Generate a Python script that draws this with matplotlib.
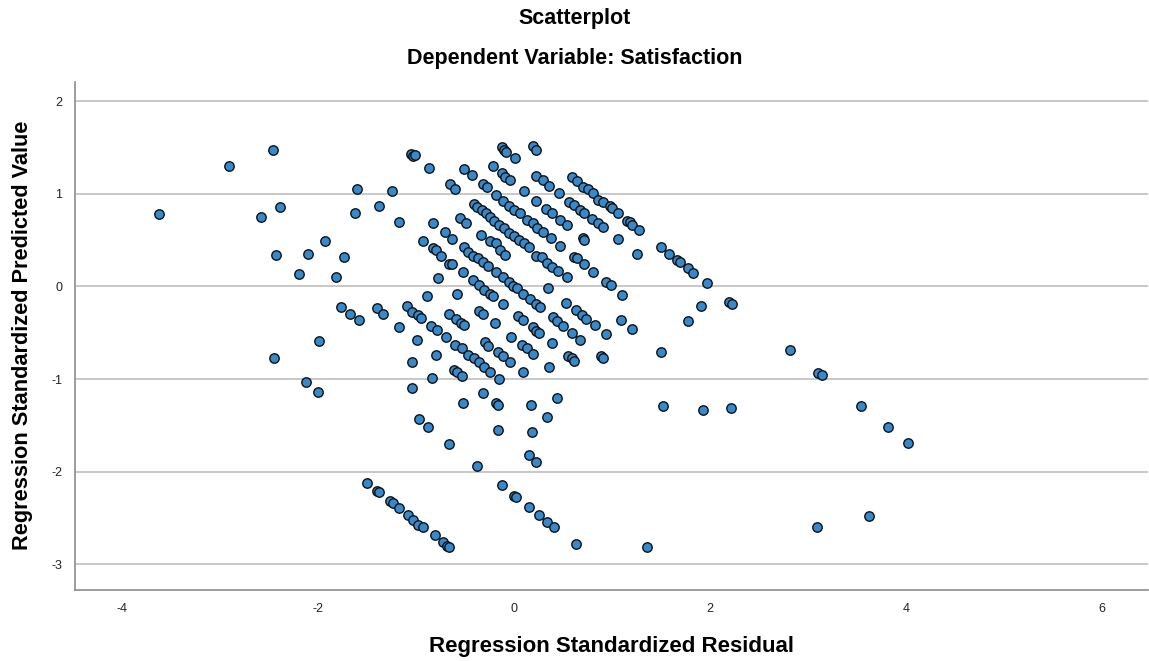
import numpy as np
import matplotlib.pyplot as plt

# Regression standardized residual (x) vs standardized predicted value (y)
left_x = [-3.62, -2.91, -2.46, -2.58, -2.39, -2.43, -2.45, -2.19, -2.10, -1.93,
          -2.12, -2.00, -1.99, -1.82, -1.73, -1.77, -1.67, -1.58, -1.60, -1.62,
          -1.40, -1.34, -1.38, -1.24, -1.17, -1.17, -1.09, -1.04, -0.98, -0.95,
          -1.05, -1.03, -1.01, -0.87, -0.99, -1.04, -1.04, -0.97, -0.88, -0.93]
left_y = [0.78, 1.30, 1.48, 0.75, 0.86, 0.34, -0.77, 0.13, 0.35, 0.49,
          -1.03, -1.14, -0.59, 0.10, 0.32, -0.22, -0.30, -0.36, 1.05, 0.79,
          -0.23, -0.30, 0.87, 1.03, 0.70, -0.44, -0.21, -0.28, -0.31, -0.34,
          1.43, 1.41, 1.42, 1.28, -0.58, -0.82, -1.10, -1.43, -1.52, 0.49]

core_x = [-0.83, -0.80, -0.74, -0.83, -0.85, -0.79, -0.80, -0.84, -0.69, -0.66,
          -0.59, -0.54, -0.51, -0.66, -0.65, -0.60, -0.70, -0.63, -0.78, -0.63,
          -0.52, -0.42, -0.36, -0.31, -0.24, -0.21, -0.58, -0.89, -0.55, -0.49,
          -0.51, -0.43, -0.21, -0.12, -0.09, -0.04, -0.12, -0.10, -0.08, 0.01,
          0.19, 0.22, 0.23, 0.30, 0.36, 0.46,
          0.59, 0.64, 0.70, 0.76, 0.81, 0.86, 0.91, 0.98, 1.00, 1.06,
          1.15, 1.18, 1.20, 1.28,
          -0.32, -0.28, -0.18, -0.11, -0.05, 0.00, 0.06, 0.10, 0.22,
          -0.41, -0.38, -0.33, -0.29, -0.24, -0.20, -0.15, -0.10, -0.05, 0.00,
          0.05, 0.10, 0.15,
          0.13, 0.19, 0.24, 0.30, 0.38, 0.47, 0.33, 0.39, 0.47, 0.54,
          0.56, 0.61, 0.67, 0.72, 0.80, 0.86, 0.91, 0.70, 0.72, 1.06, 1.26,
          0.61, 0.64, 0.71, 0.81,
          -0.51, -0.47, -0.42, -0.37, -0.32, -0.27, -0.18, -0.11, -0.05, -0.01,
          0.03, -0.34, -0.24, -0.18, -0.14, -0.09,
          0.23, 0.29, 0.34, 0.39, 0.45, 0.54,
          0.09, 0.16, 0.22, 0.27, 0.35, 0.53, 0.63, 0.69, 0.74, 0.83,
          -0.36, -0.32, -0.19, -0.11, 0.04, 0.09, 0.19, 0.23, 0.26,
          0.40, 0.44, 0.50, 0.59, 0.67, 0.39,
          -0.60, -0.53, -0.47, -0.41, -0.36, -0.31, -0.24, -0.15,
          -0.30, -0.26, -0.16, -0.11, -0.04, -0.03, 0.08, 0.13, 0.19,
          0.36, 0.09, 0.55, 0.59, 0.61, 0.89, 0.91,
          -0.61, -0.58, -0.53, -0.32, -0.52, -0.18, -0.16, 0.17, 0.44, 0.34,
          -0.16, 0.18, -0.38, 0.15, 0.23, -0.66]
core_y = [0.42, 0.39, 0.33, 0.69, -0.43, -0.47, -0.74, -0.99, -0.55, -0.30,
          -0.35, -0.39, -0.42, 0.24, 1.11, 1.05, 0.59, 0.51, 0.09, 0.24,
          0.16, 0.07, 0.02, -0.04, -0.08, -0.10, -0.08, -0.10, 0.74, 0.69,
          1.27, 1.20, 1.30, 1.23, 1.18, 1.15, 1.51, 1.48, 1.45, 1.39,
          1.52, 1.48, 1.19, 1.15, 1.09, 1.01,
          1.18, 1.14, 1.07, 1.05, 1.01, 0.93, 0.91, 0.87, 0.85, 0.79,
          0.71, 0.70, 0.66, 0.61,
          1.11, 1.07, 0.99, 0.92, 0.87, 0.83, 0.79, 1.03, 0.92,
          0.89, 0.86, 0.83, 0.79, 0.75, 0.71, 0.66, 0.63, 0.58, 0.55,
          0.50, 0.47, 0.43,
          0.72, 0.69, 0.63, 0.59, 0.52, 0.44, 0.84, 0.79, 0.72, 0.66,
          0.91, 0.88, 0.83, 0.79, 0.73, 0.69, 0.64, 0.52, 0.50, 0.51, 0.35,
          0.32, 0.31, 0.24, 0.16,
          0.43, 0.37, 0.33, 0.31, 0.26, 0.22, 0.16, 0.10, 0.05, 0.01,
          -0.02, 0.56, 0.49, 0.47, 0.39, 0.34,
          0.33, 0.32, 0.25, 0.21, 0.17, 0.10,
          -0.08, -0.13, -0.19, -0.22, -0.02, -0.18, -0.25, -0.31, -0.35, -0.42,
          -0.26, -0.30, -0.40, -0.19, -0.32, -0.36, -0.44, -0.48, -0.50,
          -0.33, -0.37, -0.43, -0.50, -0.58, -0.61,
          -0.63, -0.67, -0.74, -0.77, -0.82, -0.87, -0.92, -1.00,
          -0.60, -0.64, -0.71, -0.75, -0.82, -0.55, -0.63, -0.67, -0.73,
          -0.87, -0.92, -0.75, -0.77, -0.80, -0.75, -0.77,
          -0.90, -0.92, -0.97, -1.15, -1.26, -1.26, -1.28, -1.28, -1.21, -1.41,
          -1.55, -1.57, -1.94, -1.82, -1.90, -1.70]

lower_x = [-1.50, -1.40, -1.38, -1.27, -1.23, -1.17, -1.08, -1.03, -0.98, -0.93,
           -0.81, -0.72, -0.68, -0.66,
           -0.12, 0.00, 0.02, 0.15, 0.26, 0.34, 0.41, 0.63, 1.36]
lower_y = [-2.12, -2.21, -2.22, -2.32, -2.34, -2.39, -2.47, -2.52, -2.58, -2.60,
           -2.69, -2.76, -2.80, -2.81,
           -2.14, -2.26, -2.27, -2.38, -2.47, -2.54, -2.60, -2.78, -2.82]

right_x = [0.94, 0.99, 1.10, 1.09, 1.20, 0.94, 1.50, 1.78, 1.91, 2.20, 2.23,
           1.50, 1.58, 1.66, 1.69, 1.78, 1.83, 1.97,
           1.52, 1.93, 2.22,
           2.82, 3.10, 3.14, 3.54, 3.82, 4.02, 3.09, 3.62]
right_y = [0.05, 0.02, -0.09, -0.36, -0.46, -0.51, -0.71, -0.37, -0.21, -0.17, -0.19,
           0.43, 0.35, 0.29, 0.26, 0.20, 0.15, 0.04,
           -1.29, -1.34, -1.31,
           -0.69, -0.93, -0.96, -1.29, -1.52, -1.69, -2.60, -2.48]

x_ticks = [-4, -2, 0, 2, 4, 6]
y_ticks = [-3, -2, -1, 0, 1, 2]

residual = np.array(left_x + core_x + lower_x + right_x)
predicted = np.array(left_y + core_y + lower_y + right_y)

plt.rcParams['font.family'] = ['Liberation Sans', 'DejaVu Sans']
plt.rcParams['axes.unicode_minus'] = False

fig = plt.figure(figsize=(11.49, 6.61), dpi=100)
ax = fig.add_axes([0.0653, 0.1074, 0.9337, 0.7686])

for yt in y_ticks:
    ax.axhline(yt, color='#c8c8c8', linewidth=1.4, zorder=0)

ax.scatter(residual, predicted, s=46, c='#3589cd', edgecolors='#111111',
           linewidths=1.0, zorder=3)

ax.set_xlim(-4.48, 6.47)
ax.set_ylim(-3.28, 2.21)
ax.set_xticks(x_ticks)
ax.set_yticks(y_ticks)
ax.tick_params(length=0, labelsize=9, colors='#222222', pad=9)
for side in ['top', 'right']:
    ax.spines[side].set_visible(False)
for side in ['left', 'bottom']:
    ax.spines[side].set_color('#8c8c8c')
    ax.spines[side].set_linewidth(1.2)

fig.text(0.5, 0.972, 'Scatterplot', ha='center', va='center',
         fontsize=15.5, fontweight='bold')
fig.text(0.5, 0.912, 'Dependent Variable: Satisfaction', ha='center',
         va='center', fontsize=15.5, fontweight='bold')
# x label sits under the centre of the plot area, not the figure
fig.text(0.532, 0.022, 'Regression Standardized Residual', ha='center',
         va='center', fontsize=16, fontweight='bold')
fig.text(0.02, 0.493, 'Regression Standardized Predicted Value', ha='center',
         va='center', rotation=90, fontsize=15.7, fontweight='bold')

fig.savefig('out.png', dpi=100)
